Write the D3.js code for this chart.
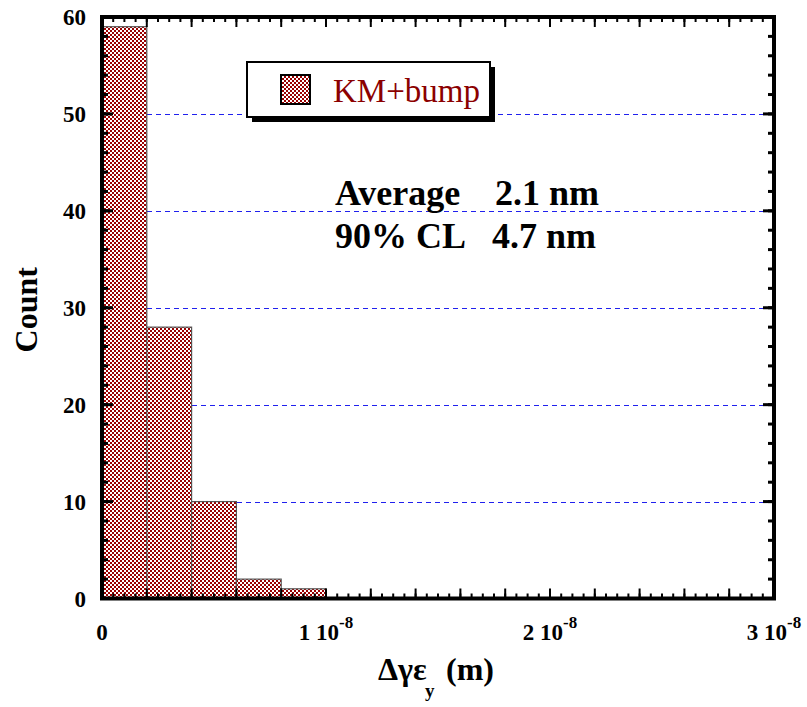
<!DOCTYPE html>
<html>
<head>
<meta charset="utf-8">
<script src="https://cdn.jsdelivr.net/npm/d3@7"></script>
<style>
  body { margin: 0; background: #fff; }
  svg { font-family: "Liberation Serif", "Times New Roman", serif; }
</style>
</head>
<body>
<svg id="chart" width="807" height="707"></svg>
<script>
// histogram bins (m) and counts
var binEdges = [0, 2e-9, 4e-9, 6e-9, 8e-9, 1e-8];
var counts = [59, 28, 10, 2, 1];
var yTicks = [0, 10, 20, 30, 40, 50, 60];
var gridValues = [10, 20, 30, 40, 50];
var xTickValues = [0, 1e-8, 2e-8, 3e-8];
var xTickMantissa = ["0", "1 10", "2 10", "3 10"];
var xTickExponent = ["", "-8", "-8", "-8"];
var legendLabel = "KM+bump";
var statLabels = ["Average", "90% CL"];
var statValues = ["2.1 nm", "4.7 nm"];

(function() {
  var svg = d3.select("#chart"),
      left = 102, right = 774, top = 17, bottom = 598.5,
      red = "#990000";

  var x = d3.scaleLinear().domain([0, 3e-8]).range([left, right]);
  var y = d3.scaleLinear().domain([0, 60]).range([bottom, top]);

  // checker hatch
  var pat = svg.append("defs").append("pattern")
      .attr("id", "hatch")
      .attr("patternUnits", "userSpaceOnUse")
      .attr("width", 4).attr("height", 4);
  pat.append("rect").attr("width", 4).attr("height", 4).attr("fill", "#fff");
  pat.append("rect").attr("width", 2).attr("height", 2).attr("fill", red);
  pat.append("rect").attr("x", 2).attr("y", 2).attr("width", 2).attr("height", 2).attr("fill", red);

  // grid
  svg.append("g").selectAll("line")
      .data(gridValues)
    .enter().append("line")
      .attr("x1", left).attr("x2", right)
      .attr("y1", function(d) { return Math.round(y(d)) + 0.5; })
      .attr("y2", function(d) { return Math.round(y(d)) + 0.5; })
      .attr("stroke", "#2020ee")
      .attr("stroke-width", 1)
      .attr("stroke-dasharray", "5,4");

  // bars
  svg.append("g").selectAll("rect")
      .data(counts)
    .enter().append("rect")
      .attr("x", function(d, i) { return x(binEdges[i]); })
      .attr("y", function(d) { return y(d); })
      .attr("width", function(d, i) { return x(binEdges[i + 1]) - x(binEdges[i]); })
      .attr("height", function(d) { return bottom - y(d); })
      .attr("fill", "url(#hatch)")
      .attr("stroke", "#555")
      .attr("stroke-width", 1.2);

  // ticks on all four sides, pointing inward
  var ticks = svg.append("g").attr("stroke", "#000");
  var xMajor = d3.range(0, 31).filter(function(i) { return i % 2 == 0; }).map(function(i) { return i * 1e-9; });
  var xMinor = d3.range(0, 61).map(function(i) { return i * 5e-10; });
  var yMinor = d3.range(0, 31).map(function(i) { return i * 2; });

  function xTick(v, len, w) {
    ticks.append("line").attr("x1", x(v)).attr("x2", x(v)).attr("y1", bottom).attr("y2", bottom - len).attr("stroke-width", w);
    ticks.append("line").attr("x1", x(v)).attr("x2", x(v)).attr("y1", top).attr("y2", top + len).attr("stroke-width", w);
  }
  function yTick(v, len, w) {
    ticks.append("line").attr("y1", y(v)).attr("y2", y(v)).attr("x1", left).attr("x2", left + len).attr("stroke-width", w);
    ticks.append("line").attr("y1", y(v)).attr("y2", y(v)).attr("x1", right).attr("x2", right - len).attr("stroke-width", w);
  }
  xMinor.forEach(function(v) { xTick(v, 5, 2); });
  xMajor.forEach(function(v) { xTick(v, 10, 2); });
  yMinor.forEach(function(v) { yTick(v, 6, 3); });
  yTicks.forEach(function(v) { yTick(v, 11, 3); });

  // frame
  svg.append("rect")
      .attr("x", left).attr("y", top)
      .attr("width", right - left).attr("height", bottom - top)
      .attr("fill", "none").attr("stroke", "#000").attr("stroke-width", 4);

  // y tick labels
  svg.append("g").selectAll("text")
      .data(yTicks)
    .enter().append("text")
      .attr("x", left - 16)
      .attr("y", function(d) { return y(d); })
      .attr("dy", "0.35em")
      .attr("text-anchor", "end")
      .attr("font-size", 23)
      .attr("font-weight", "bold")
      .text(function(d) { return d; });

  // x tick labels
  var xl = svg.append("g").selectAll("text")
      .data(xTickValues)
    .enter().append("text")
      .attr("x", function(d) { return x(d); })
      .attr("y", 640)
      .attr("text-anchor", "middle")
      .attr("font-size", 23)
      .attr("font-weight", "bold");
  xl.append("tspan").text(function(d, i) { return xTickMantissa[i]; });
  xl.append("tspan")
      .attr("dy", -12)
      .attr("font-size", 17)
      .text(function(d, i) { return xTickExponent[i]; });

  // axis titles
  svg.append("text")
      .attr("transform", "translate(37," + (y(30) + 2) + ") rotate(-90)")
      .attr("text-anchor", "middle")
      .attr("font-size", 32)
      .attr("font-weight", "bold")
      .text("Count");

  var xt = svg.append("text")
      .attr("x", 378).attr("y", 680)
      .attr("font-size", 32)
      .attr("font-weight", "bold");
  xt.append("tspan").text("\u0394\u03b3\u03b5");
  xt.append("tspan").attr("x", 425).attr("dy", 17).attr("font-size", 19).text("y");
  xt.append("tspan").attr("x", 446).attr("dy", -17).text("(m)");

  // legend
  svg.append("rect").attr("x", 252).attr("y", 67).attr("width", 243).attr("height", 55).attr("fill", "#000");
  svg.append("rect").attr("x", 247).attr("y", 62).attr("width", 243).attr("height", 55)
      .attr("fill", "#fff").attr("stroke", "#000").attr("stroke-width", 2);
  svg.append("rect").attr("x", 281).attr("y", 75).attr("width", 29).attr("height", 29)
      .attr("fill", "url(#hatch)").attr("stroke", "#000").attr("stroke-width", 2);
  svg.append("text")
      .attr("x", 333).attr("y", 102)
      .attr("font-size", 33)
      .attr("fill", "#8b0000")
      .text(legendLabel);

  // stats
  var stats = svg.append("g")
      .attr("font-size", 36)
      .attr("font-weight", "bold");
  stats.selectAll(".lab")
      .data(statLabels)
    .enter().append("text")
      .attr("x", 335)
      .attr("y", function(d, i) { return 205 + i * 43; })
      .text(function(d) { return d; });
  stats.selectAll(".val")
      .data(statValues)
    .enter().append("text")
      .attr("x", function(d, i) { return i == 0 ? 495 : 492; })
      .attr("y", function(d, i) { return 205 + i * 43; })
      .text(function(d) { return d; });
})();
</script>
</body>
</html>
